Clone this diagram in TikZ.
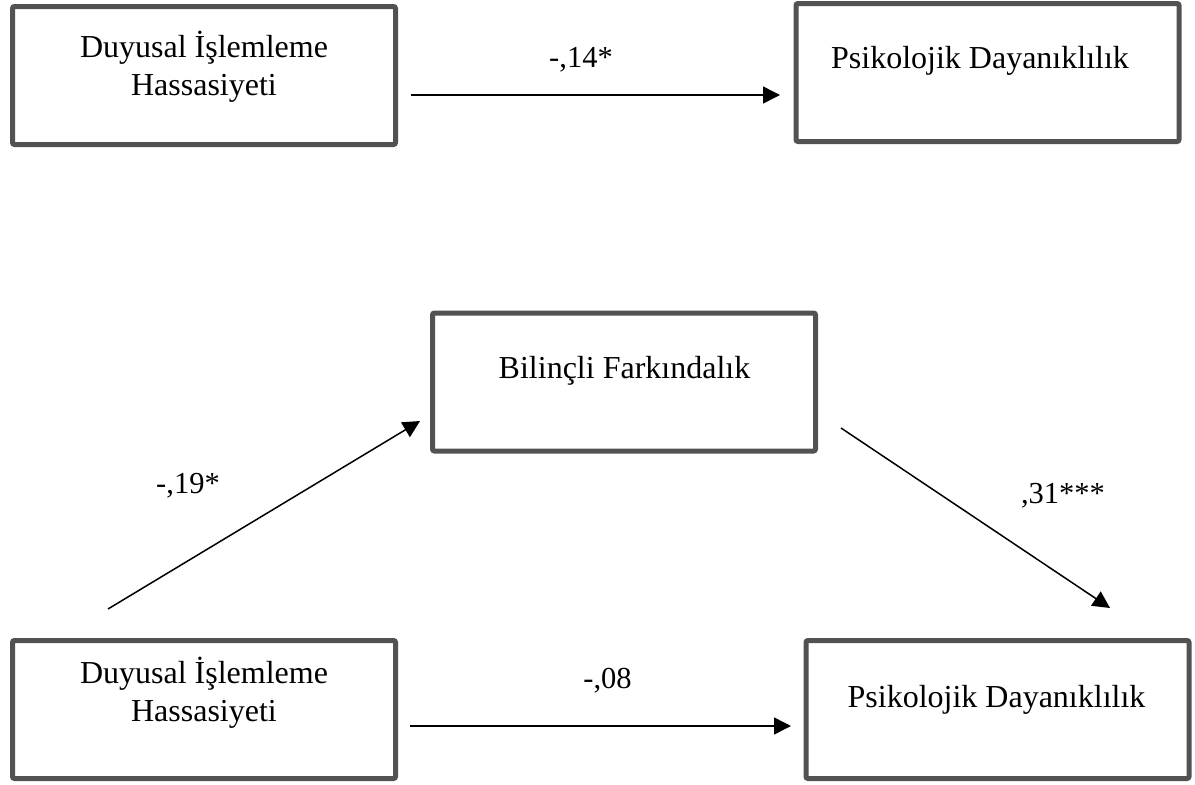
\documentclass[tikz,border=0pt]{standalone}
\usepackage{fontspec}
\setmainfont{Liberation Serif}
\usepackage{xcolor}
\usepackage{tikz}
\usetikzlibrary{%
    arrows.meta%
}
\definecolor{boxgray}{HTML}{525252}

\begin{document}
\begin{tikzpicture}[x=1pt,y=-1pt,
    varbox/.style={draw=boxgray,line width=5pt,rounded corners=2pt,
        minimum width=383pt,minimum height=138pt,inner sep=0pt},
    vartext/.style={font={\fontsize{32}{38}\selectfont},align=center,inner sep=0pt},
    coef/.style={font={\fontsize{30.5}{36}\selectfont},inner sep=0pt,anchor=base},
    path/.style={line width=1.5pt,-{Triangle[length=17pt,width=17pt]}},
    ]
    \useasboundingbox (0,0) rectangle (1195,785);
    % top model: total effect
    \node[varbox] (dih1) at (204,75.5) {};
    \node[vartext] (dih1t) at (204,67) {Duyusal İşlemleme\\Hassasiyeti};
    \node[varbox] (pd1) at (987.5,72.5) {};
    \node[vartext,anchor=base] (pd1t) at (980,68) {Psikolojik Dayanıklılık};
    \coordinate (c1s) at (411,95);
    \coordinate (c1e) at (780,95);
    \draw[path] (c1s) -- (c1e);
    \node[coef] (c1) at (581,67) {-,14*};
    % bottom model: mediation
    \node[varbox] (bf) at (624,382) {};
    \node[vartext,anchor=base] (bft) at (624.5,378) {Bilinçli Farkındalık};
    \node[varbox] (dih2) at (204,709.5) {};
    \node[vartext] (dih2t) at (204,693) {Duyusal İşlemleme\\Hassasiyeti};
    \node[varbox] (pd2) at (997.5,709.5) {};
    \node[vartext,anchor=base] (pd2t) at (996.5,707) {Psikolojik Dayanıklılık};
    \coordinate (a1) at (108,609);
    \coordinate (a2) at (420,421);
    \coordinate (b1) at (841,428);
    \coordinate (b2) at (1110,608);
    \coordinate (c2s) at (410,726);
    \coordinate (c2e) at (791,726);
    \draw[path] (a1) -- (a2);
    \draw[path] (b1) -- (b2);
    \draw[path] (c2s) -- (c2e);
    \node[coef] (ca) at (188,493) {-,19*};
    \node[coef] (cb) at (1063,503) {,31***};
    \node[coef] (cc) at (607.5,688) {-,08};
\end{tikzpicture}
\end{document}
